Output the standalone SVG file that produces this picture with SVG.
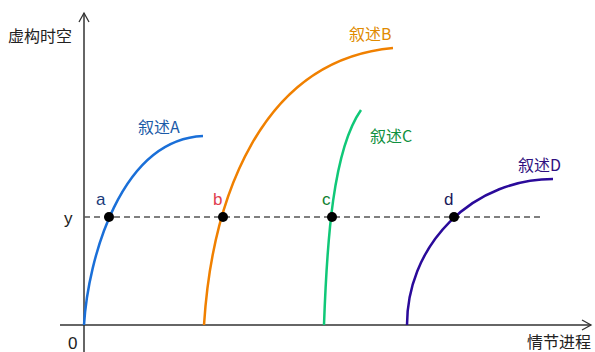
<svg xmlns="http://www.w3.org/2000/svg" width="595" height="352" viewBox="0 0 595 352">
<defs>
<style>
.ax{stroke:#333;stroke-width:1.5;fill:none}
.arr{stroke:#333;stroke-width:1.3;fill:none}
.cv{fill:none;stroke-width:2.5}
.t{font-family:"Noto Sans CJK SC","Liberation Sans",sans-serif}
.lbl{font-family:"Liberation Sans",Arial,sans-serif;font-size:17px}
</style>
</defs>
<rect width="595" height="352" fill="#fff"/>
<g id="axes">
<line class="ax" x1="84" y1="352" x2="84" y2="13"/>
<polyline class="arr" points="79,22 84,13 89,22"/>
<line class="ax" x1="60" y1="325" x2="591" y2="325"/>
<polyline class="arr" points="582,320 591,325 582,330"/>
<text class="t" x="8" y="42" font-size="16" fill="#222">虚构时空</text>
<text class="t" x="527" y="348" font-size="16" fill="#222">情节进程</text>
<text class="lbl" x="68" y="349" fill="#222">0</text>
<text class="lbl" x="64" y="224" font-size="19" fill="#222">y</text>
</g>
<g id="connectors">
<line x1="84" y1="217" x2="543" y2="217" stroke="#555" stroke-width="1.3" stroke-dasharray="6,4"/>
</g>
<g id="curveA">
<path class="cv" stroke="#1a6fd8" d="M84,325 C88,260 120,140 203,136"/>
<text class="t" x="138" y="133" font-size="16" fill="#1a5aa8">叙述A</text>
</g>
<g id="curveB">
<path class="cv" stroke="#f08000" d="M204,325 C212,200 260,60 393,48"/>
<text class="t" x="349" y="40" font-size="16" fill="#e08a00">叙述B</text>
</g>
<g id="curveC">
<path class="cv" stroke="#10c878" d="M324,325 C327,240 333,150 361,110"/>
<text class="t" x="370" y="142" font-size="16" fill="#109040">叙述C</text>
</g>
<g id="curveD">
<path class="cv" stroke="#2a0a9a" d="M407,325 A146,146 0 0 1 553,179"/>
<text class="t" x="518" y="171" font-size="16" fill="#301080">叙述D</text>
</g>
<g id="pointA">
<circle cx="109" cy="217" r="5" fill="#000"/>
<text class="lbl" x="96" y="205" fill="#1a3a7a">a</text>
</g>
<g id="pointB">
<circle cx="223" cy="217" r="5" fill="#000"/>
<text class="lbl" x="213" y="205" fill="#e04050">b</text>
</g>
<g id="pointC">
<circle cx="332" cy="217" r="5" fill="#000"/>
<text class="lbl" x="322" y="205" fill="#108030">c</text>
</g>
<g id="pointD">
<circle cx="454" cy="217" r="5" fill="#000"/>
<text class="lbl" x="444" y="205" fill="#1a1a5a">d</text>
</g>
</svg>
